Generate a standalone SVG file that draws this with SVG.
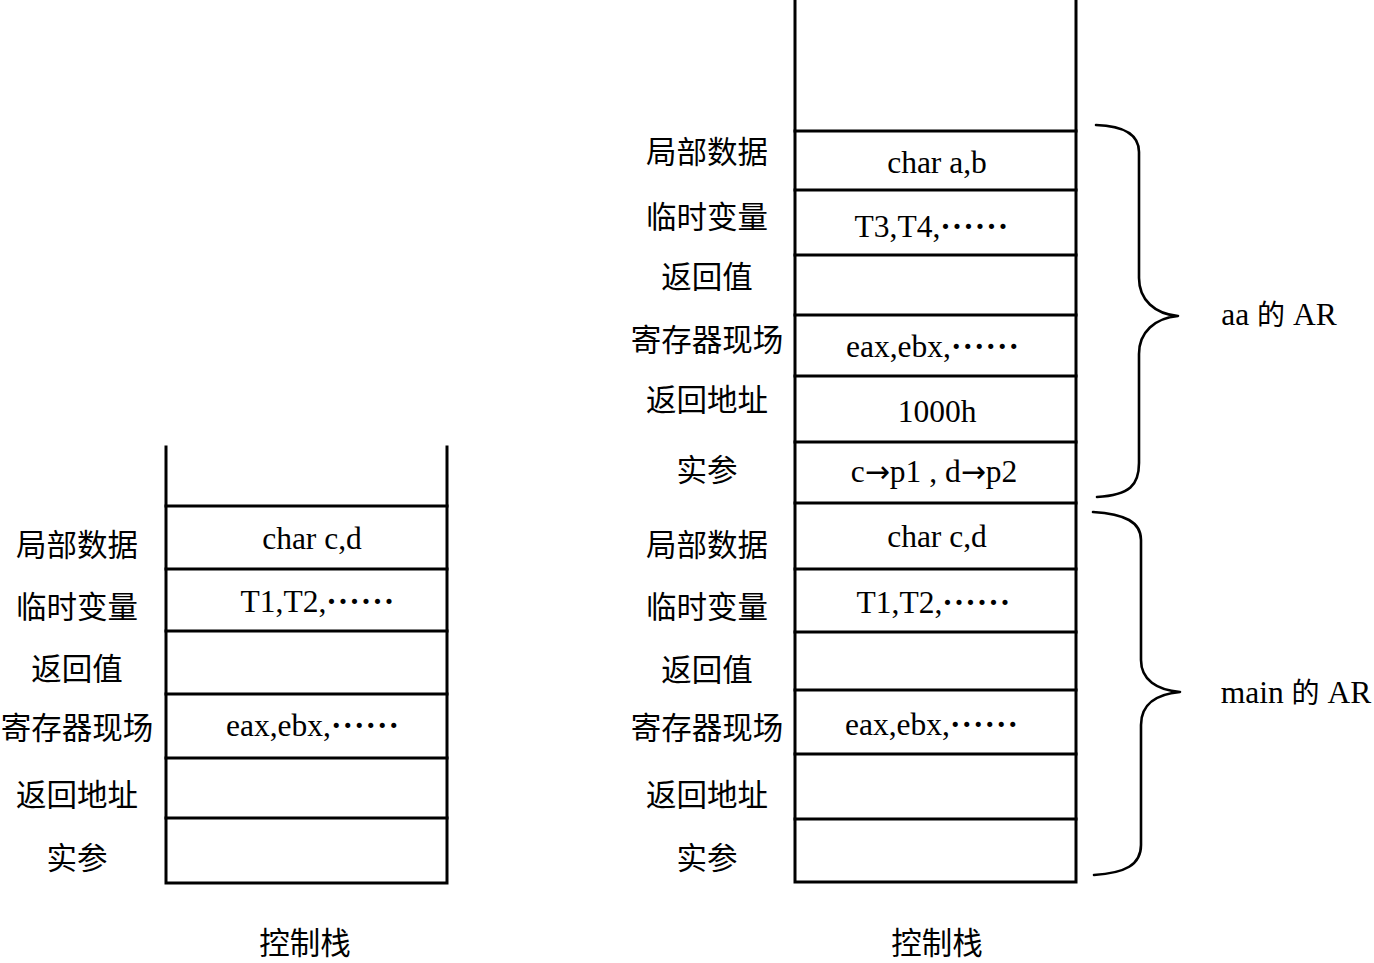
<svg xmlns="http://www.w3.org/2000/svg" width="1374" height="963" viewBox="0 0 1374 963">
<style>
.ln{stroke:#000;stroke-width:3;fill:none;stroke-linecap:square}
.br{stroke:#000;stroke-width:2.6;fill:none;stroke-linecap:round;stroke-linejoin:round}
.cj{font-family:"Noto Sans CJK SC","Noto Sans",sans-serif;font-size:30.5px;fill:#000;text-anchor:middle}
.tm{font-family:"Liberation Serif","Times New Roman",serif;font-size:31.5px;fill:#000;text-anchor:middle}
.dots{letter-spacing:1px;font-weight:bold}
.arr{font-family:"DejaVu Sans",sans-serif;font-size:30px}
.de{font-family:"Noto Sans CJK SC",sans-serif;font-size:28px}
</style>
<rect width="1374" height="963" fill="#fff"/>

<g id="left-stack">
  <path class="ln" d="M166,447 V883 H447 V447"/>
  <path class="ln" d="M166,506 H447 M166,569 H447 M166,631 H447 M166,694 H447 M166,758 H447 M166,818 H447"/>
</g>
<g id="left-locals"><text class="cj" x="77" y="556">局部数据</text><text class="tm" x="312" y="549">char c,d</text></g>
<g id="left-temps"><text class="cj" x="77" y="618">临时变量</text><text class="tm" x="318" y="612">T1,T2,<tspan class="dots">······</tspan></text></g>
<g id="left-retval"><text class="cj" x="77" y="680">返回值</text></g>
<g id="left-regs"><text class="cj" x="77" y="739">寄存器现场</text><text class="tm" x="313" y="736">eax,ebx,<tspan class="dots">······</tspan></text></g>
<g id="left-retaddr"><text class="cj" x="77" y="806">返回地址</text></g>
<g id="left-args"><text class="cj" x="77" y="869">实参</text></g>
<g id="left-caption"><text class="cj" x="305" y="954">控制栈</text></g>

<g id="right-stack">
  <path class="ln" d="M795,0 V882 H1076 V0"/>
  <path class="ln" d="M795,131 H1076 M795,190 H1076 M795,255 H1076 M795,315 H1076 M795,376 H1076 M795,442 H1076 M795,503 H1076 M795,569 H1076 M795,632 H1076 M795,690 H1076 M795,754 H1076 M795,819 H1076"/>
</g>
<g id="aa-locals"><text class="cj" x="707" y="163">局部数据</text><text class="tm" x="937" y="173">char a,b</text></g>
<g id="aa-temps"><text class="cj" x="707" y="228">临时变量</text><text class="tm" x="932" y="237">T3,T4,<tspan class="dots">······</tspan></text></g>
<g id="aa-retval"><text class="cj" x="707" y="288">返回值</text></g>
<g id="aa-regs"><text class="cj" x="707" y="351">寄存器现场</text><text class="tm" x="933" y="357">eax,ebx,<tspan class="dots">······</tspan></text></g>
<g id="aa-retaddr"><text class="cj" x="707" y="411">返回地址</text><text class="tm" x="937" y="422">1000h</text></g>
<g id="aa-args"><text class="cj" x="707" y="481">实参</text><text class="tm" x="934" y="482">c<tspan class="arr">→</tspan>p1 , d<tspan class="arr">→</tspan>p2</text></g>
<g id="main-locals"><text class="cj" x="707" y="556">局部数据</text><text class="tm" x="937" y="547">char c,d</text></g>
<g id="main-temps"><text class="cj" x="707" y="618">临时变量</text><text class="tm" x="934" y="613">T1,T2,<tspan class="dots">······</tspan></text></g>
<g id="main-retval"><text class="cj" x="707" y="681">返回值</text></g>
<g id="main-regs"><text class="cj" x="707" y="739">寄存器现场</text><text class="tm" x="932" y="735">eax,ebx,<tspan class="dots">······</tspan></text></g>
<g id="main-retaddr"><text class="cj" x="707" y="806">返回地址</text></g>
<g id="main-args"><text class="cj" x="707" y="869">实参</text></g>
<g id="right-caption"><text class="cj" x="937" y="954">控制栈</text></g>

<g id="connectors">
  <path class="br" d="M1096,125 C1125,126 1139,135 1139,152 L1139,278 C1139,300 1155,314 1178,316 C1155,318 1139,332 1139,354 L1139,463 C1139,485 1130,495 1097,497"/>
  <path class="br" d="M1093,512 C1125,514 1141,522 1141,540 L1141,660 C1141,680 1157,690 1180,692 C1157,694 1141,704 1141,725 L1141,845 C1141,865 1125,873 1094,875"/>
</g>
<g id="aa-ar"><text class="tm" x="1279" y="325">aa <tspan class="de">的</tspan> AR</text></g>
<g id="main-ar"><text class="tm" x="1296" y="703">main <tspan class="de">的</tspan> AR</text></g>
</svg>
